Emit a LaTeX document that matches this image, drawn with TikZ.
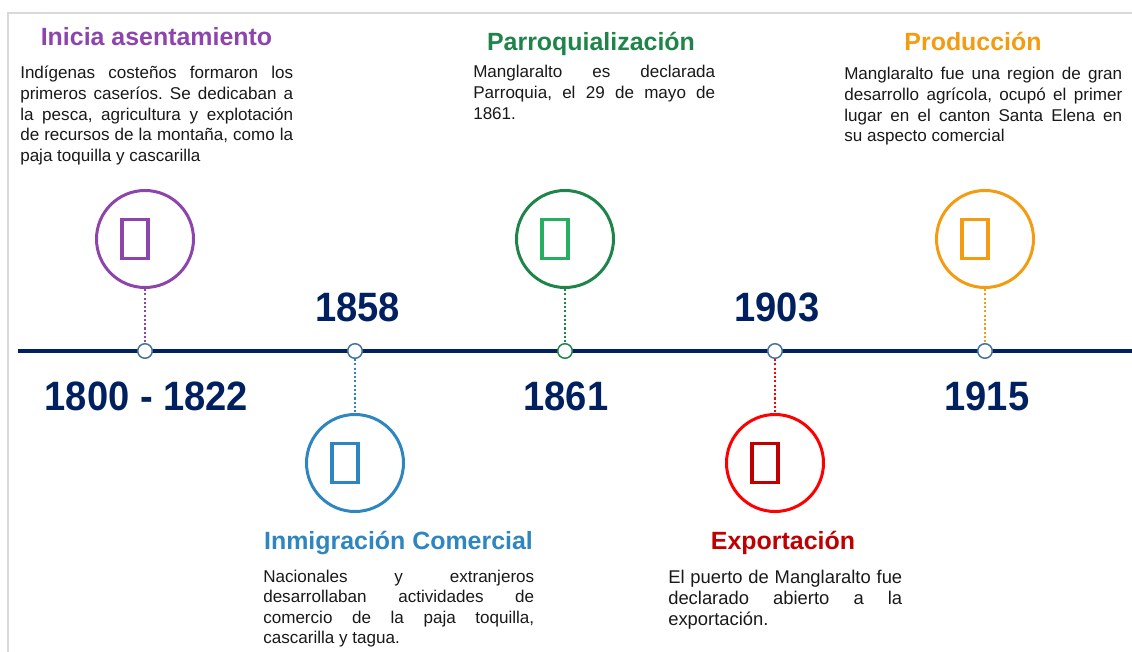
\documentclass[tikz,border=0pt]{standalone}
\usepackage{fontspec}
\setmainfont{Liberation Sans}
\newfontfamily\anio[FakeStretch=0.93]{Liberation Sans}
\usetikzlibrary{positioning}
\frenchspacing
\definecolor{morado}{RGB}{142,68,173}
\definecolor{azul}{RGB}{46,134,193}
\definecolor{verde}{RGB}{30,132,73}
\definecolor{verdeclaro}{RGB}{39,174,96}
\definecolor{rojo}{RGB}{255,0,0}
\definecolor{rojooscuro}{RGB}{192,0,0}
\definecolor{naranja}{RGB}{243,156,18}
\definecolor{azulnoche}{RGB}{0,32,96}
\definecolor{marcaazul}{RGB}{65,113,156}
\definecolor{marco}{RGB}{217,217,217}
\tikzstyle{hito} = [circle, draw, line width=2.25pt, minimum size=72.75pt, inner sep=0pt]
\tikzstyle{marca} = [circle, draw=marcaazul, line width=1.1pt, fill=white, minimum size=10.9pt, inner sep=0pt]
\tikzstyle{icono} = [rectangle, draw, line width=2.5pt, minimum width=19.5pt, minimum height=29.25pt, inner sep=0pt]
\tikzstyle{guia} = [dash pattern=on 1.6pt off 1.6pt, line width=0.8pt]
\tikzstyle{titulo} = [font=\fontsize{18.7}{22}\selectfont\bfseries, anchor=base, inner sep=0pt]
\tikzstyle{texto} = [font=\fontsize{12.8}{15.4}\selectfont, text=black!90, align=justify, anchor=base west, inner sep=0pt]
\tikzstyle{fecha} = [font=\fontsize{30.75}{36}\selectfont\anio\bfseries, text=azulnoche, anchor=base, inner sep=0pt]

\begin{document}
\begin{tikzpicture}[x=0.75pt, y=-0.75pt, node distance=84pt]
        \useasboundingbox (0,0) rectangle (1132,652);
        \draw[marco, line width=1.5pt] (8,652) -- (8,13) -- (1132,13);

        \coordinate (inicio) at (18,351);
        \coordinate (fin) at (1132,351);
        \draw[azulnoche, line width=2.4pt] (inicio) -- (fin);

        \node[marca] (m1800) at (145,351) {};
        \node[marca] (m1858) at (355,351) {};
        \node[marca, draw=verde] (m1861) at (565,351) {};
        \node[marca] (m1903) at (775,351) {};
        \node[marca] (m1915) at (985,351) {};

        \node[hito, draw=morado] (asentamiento) [above of=m1800] {};
        \node[hito, draw=azul] (inmigracion) [below of=m1858] {};
        \node[hito, draw=verde] (parroquia) [above of=m1861] {};
        \node[hito, draw=rojo] (exportacion) [below of=m1903] {};
        \node[hito, draw=naranja] (produccion) [above of=m1915] {};

        \node[icono, draw=morado] (icasentamiento) at ([xshift=-7.5pt]asentamiento) {};
        \node[icono, draw=azul] (icinmigracion) at ([xshift=-7.5pt]inmigracion) {};
        \node[icono, draw=verdeclaro] (icparroquia) at ([xshift=-7.5pt]parroquia) {};
        \node[icono, draw=rojooscuro] (icexportacion) at ([xshift=-7.5pt]exportacion) {};
        \node[icono, draw=naranja] (icproduccion) at ([xshift=-7.5pt]produccion) {};

        \draw[guia, morado] (asentamiento) -- (m1800);
        \draw[guia, azul] (m1858) -- (inmigracion);
        \draw[guia, verde] (parroquia) -- (m1861);
        \draw[guia, rojo] (m1903) -- (exportacion);
        \draw[guia, naranja] (produccion) -- (m1915);

        \node[fecha] (f1800) at (146.5,410) {1800 - 1822};
        \node[fecha] (f1858) at (357.5,322) {1858};
        \node[fecha] (f1861) at (566,410) {1861};
        \node[fecha] (f1903) at (777,322) {1903};
        \node[fecha] (f1915) at (987,410) {1915};

        \node[titulo, text=morado] (tasentamiento) at (156.5,46) {Inicia asentamiento};
        \node[titulo, text=verde] (tparroquia) at (591,51) {Parroquialización};
        \node[titulo, text=naranja] (tproduccion) at (973,51) {Producción};
        \node[titulo, text=azul] (tinmigracion) at (398.5,549) {Inmigración Comercial};
        \node[titulo, text=rojooscuro] (texportacion) at (783,549) {Exportación};

        \node[texto, text width=204.75pt] (dasentamiento) at (20,79) {Indígenas costeños formaron los \linebreak primeros caseríos. Se dedicaban a \linebreak la pesca, agricultura y explotación \linebreak de recursos de la montaña, como la \linebreak paja toquilla y cascarilla};
        \node[texto, text width=181.5pt] (dparroquia) at (473,78) {Manglaralto es declarada \linebreak Parroquia, el 29 de mayo de \linebreak 1861.};
        \node[texto, text width=208.5pt] (dproduccion) at (844,80) {Manglaralto fue una region de gran \linebreak desarrollo agrícola, ocupó el primer \linebreak lugar en el canton Santa Elena en \linebreak su aspecto comercial};
        \node[texto, text width=203.25pt] (dinmigracion) at (263,582) {Nacionales y extranjeros \linebreak desarrollaban actividades de \linebreak comercio de la paja toquilla, \linebreak cascarilla y tagua.};
        \node[texto, text width=175.5pt, font=\fontsize{13.8}{16.1}\selectfont] (dexportacion) at (668,583) {El puerto de Manglaralto fue \linebreak declarado abierto a la \linebreak exportación.};
    \end{tikzpicture}
\end{document}
